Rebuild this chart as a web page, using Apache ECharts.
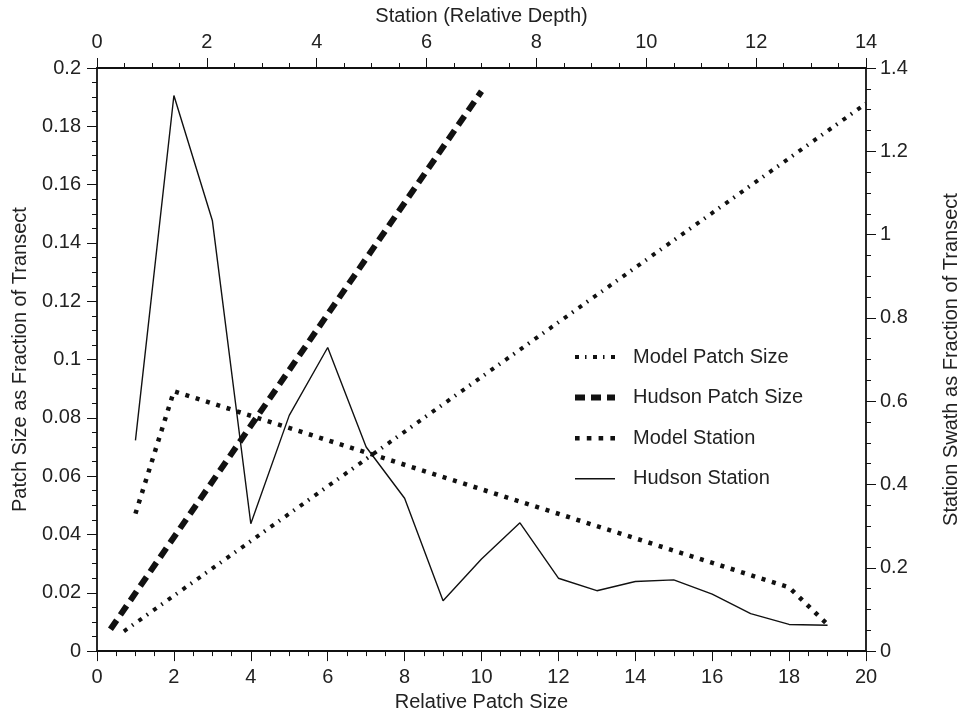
<!DOCTYPE html>
<html>
<head>
<meta charset="utf-8">
<script src="https://cdn.jsdelivr.net/npm/echarts@6/dist/echarts.min.js"></script>
<style>html,body{margin:0;padding:0;background:#fff}#c{width:969px;height:717px}</style>
</head>
<body>
<div id="c"></div>
<script>
// Patch series: bottom axis (Relative Patch Size) vs left axis (fraction)
const modelPatchX = [0.7, 20];
const modelPatchY = [0.0068, 0.1878];
const hudsonPatchX = [0.35, 10];
const hudsonPatchY = [0.0075, 0.192];
// Station series: top axis (Station, Relative Depth) vs right axis (swath fraction)
const modelStationX = [0.7, 1.4, 12.6, 13.3];
const modelStationY = [0.330, 0.624, 0.153, 0.064];
const hudsonStationX = [0.7, 1.4, 2.1, 2.8, 3.5, 4.2, 4.9, 5.6, 6.3, 7.0, 7.7, 8.4, 9.1, 9.8, 10.5, 11.2, 11.9, 12.6, 13.3];
const hudsonStationY = [0.506, 1.334, 1.034, 0.306, 0.566, 0.729, 0.490, 0.367, 0.121, 0.221, 0.308, 0.175, 0.145, 0.167, 0.171, 0.137, 0.090, 0.064, 0.062];
const bottomTicks = {min: 0, max: 20, interval: 2};
const topTicks = {min: 0, max: 14, interval: 2};
const leftTicks = {min: 0, max: 0.2, interval: 0.02};
const rightTicks = {min: 0, max: 1.4, interval: 0.2};
const seriesNames = ['Model Patch Size', 'Hudson Patch Size', 'Model Station', 'Hudson Station'];

const zip = (xs, ys) => xs.map((x, i) => [x, ys[i]]);
const FONT = "'Liberation Sans', Arial, Helvetica, sans-serif";
const TXT = '#222';
const FS = 20;

// legend swatches drawn as dash patterns (icon paths)
const legendIcons = [
  'path://M0 0h4v4h-4z M10 0h1.5v4h-1.5z M18 0h4v4h-4z M28 0h1.5v4h-1.5z M36 0h4v4h-4z',
  'path://M0 0h10v6h-10z M16 0h10v6h-10z M32 0h8v6h-8z',
  'path://M0 0h4.5v4.5h-4.5z M11.5 0h4.5v4.5h-4.5z M23 0h4.5v4.5h-4.5z M34.5 0h4.5v4.5h-4.5z',
  'path://M0 0h40v1.4h-40z'
];

function axisCommon() {
  return {
    axisLine: {show: true, onZero: false, lineStyle: {color: '#111', width: 1.8}},
    axisTick: {show: true, inside: false, length: 10, lineStyle: {color: '#111', width: 1}},
    minorTick: {show: true, splitNumber: 4, length: 5, lineStyle: {color: '#111', width: 1}},
    splitLine: {show: false},
    minorSplitLine: {show: false},
    nameTextStyle: {color: TXT, fontSize: FS, fontFamily: FONT},
    nameLocation: 'middle'
  };
}

const chart = echarts.init(document.getElementById('c'), null, {renderer: 'canvas'});
chart.setOption({
  animation: false,
  backgroundColor: '#fff',
  textStyle: {fontFamily: FONT},
  grid: {left: 97, right: 90, top: 68, bottom: 61, containLabel: false},
  legend: {
    orient: 'vertical',
    left: 570, top: 342,
    itemWidth: 40, itemHeight: 14, itemGap: 20.6,
    textStyle: {color: TXT, fontSize: FS, fontFamily: FONT, padding: [0, 0, 0, 13]},
    data: seriesNames.map((n, i) => ({name: n, icon: legendIcons[i]}))
  },
  xAxis: [
    Object.assign(axisCommon(), {
      type: 'value', position: 'bottom', ...bottomTicks,
      name: 'Relative Patch Size', nameGap: 38,
      axisLabel: {color: TXT, fontSize: FS, fontFamily: FONT, margin: 16}
    }),
    Object.assign(axisCommon(), {
      type: 'value', position: 'top', ...topTicks,
      name: 'Station (Relative Depth)', nameGap: 42,
      axisLabel: {color: TXT, fontSize: FS, fontFamily: FONT, margin: 16}
    })
  ],
  yAxis: [
    Object.assign(axisCommon(), {
      type: 'value', position: 'left', ...leftTicks,
      name: 'Patch Size as Fraction of Transect', nameGap: 67, nameRotate: 90,
      axisLabel: {color: TXT, fontSize: FS, fontFamily: FONT, margin: 16}
    }),
    Object.assign(axisCommon(), {
      type: 'value', position: 'right', ...rightTicks,
      name: 'Station Swath as Fraction of Transect', nameGap: 75, nameRotate: 90,
      axisLabel: {color: TXT, fontSize: FS, fontFamily: FONT, margin: 14}
    })
  ],
  series: [
    {
      name: seriesNames[0], type: 'line', xAxisIndex: 0, yAxisIndex: 0,
      data: zip(modelPatchX, modelPatchY), symbol: 'none', color: '#111',
      lineStyle: {color: '#111', width: 4, type: [4, 6, 1.5, 6.5], cap: 'butt'}
    },
    {
      name: seriesNames[1], type: 'line', xAxisIndex: 0, yAxisIndex: 0,
      data: zip(hudsonPatchX, hudsonPatchY), symbol: 'none', color: '#111',
      lineStyle: {color: '#111', width: 6, type: [11, 6.5], cap: 'butt'}
    },
    {
      name: seriesNames[2], type: 'line', xAxisIndex: 1, yAxisIndex: 1,
      data: zip(modelStationX, modelStationY), symbol: 'none', color: '#111',
      lineStyle: {color: '#111', width: 4.5, type: [4, 6.8], cap: 'butt'}
    },
    {
      name: seriesNames[3], type: 'line', xAxisIndex: 1, yAxisIndex: 1,
      data: zip(hudsonStationX, hudsonStationY), symbol: 'none', color: '#111',
      lineStyle: {color: '#111', width: 1.4, type: 'solid'}
    }
  ]
});
</script>
</body>
</html>
